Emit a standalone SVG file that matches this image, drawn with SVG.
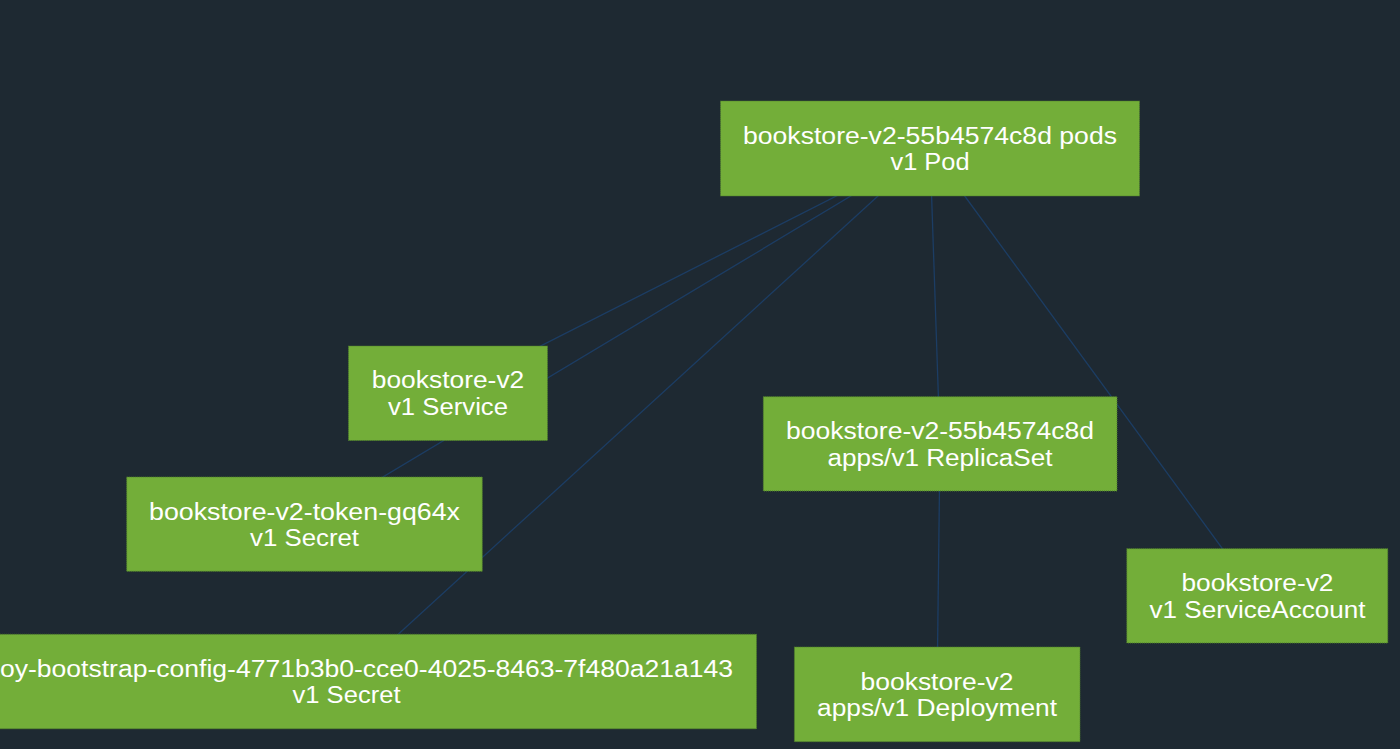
<svg xmlns="http://www.w3.org/2000/svg" width="1400" height="749" viewBox="0 0 1400 749">
<style>
.bg{fill:#1e2932}
.node rect{fill:#73ae39;stroke:#4f7f2c;stroke-width:1;stroke-dasharray:1 1}
.node text{font-family:"Liberation Sans",Arial,Helvetica,sans-serif;font-size:23px;fill:#ffffff;text-anchor:middle}
.edges line{stroke:#1c3d64;stroke-width:1.3;fill:none}
</style>
<rect class="bg" x="0" y="0" width="1400" height="749"/>
<g id="edges" class="edges">
<line x1="930" y1="148.5" x2="448" y2="393"/>
<line x1="930" y1="148.5" x2="304.5" y2="524"/>
<line x1="930" y1="148.5" x2="346.5" y2="681.5"/>
<line x1="930" y1="148.5" x2="940" y2="444"/>
<line x1="930" y1="148.5" x2="1257" y2="596"/>
<line x1="940" y1="444" x2="937" y2="694.5"/>
</g>
<g id="pod" class="node">
<rect x="720.5" y="101" width="419" height="95"/>
<text x="930" y="143.5" textLength="374" lengthAdjust="spacingAndGlyphs">bookstore-v2-55b4574c8d pods</text>
<text x="930" y="170" textLength="79" lengthAdjust="spacingAndGlyphs">v1 Pod</text>
</g>
<g id="service" class="node">
<rect x="348.5" y="346" width="199" height="94.5"/>
<text x="448" y="388" textLength="152.5" lengthAdjust="spacingAndGlyphs">bookstore-v2</text>
<text x="448" y="414.5" textLength="120" lengthAdjust="spacingAndGlyphs">v1 Service</text>
</g>
<g id="token-secret" class="node">
<rect x="126.7" y="477" width="355.6" height="94.3"/>
<text x="304.5" y="519.5" textLength="311" lengthAdjust="spacingAndGlyphs">bookstore-v2-token-gq64x</text>
<text x="304.5" y="546" textLength="109" lengthAdjust="spacingAndGlyphs">v1 Secret</text>
</g>
<g id="envoy-secret" class="node">
<rect x="-62" y="634.3" width="818.5" height="94.5"/>
<text x="0" y="676.5" style="text-anchor:start" textLength="733" lengthAdjust="spacingAndGlyphs">oy-bootstrap-config-4771b3b0-cce0-4025-8463-7f480a21a143</text>
<text x="346.5" y="703" textLength="108" lengthAdjust="spacingAndGlyphs">v1 Secret</text>
</g>
<g id="replicaset" class="node">
<rect x="763.3" y="396.7" width="353.7" height="94.3"/>
<text x="940" y="439" textLength="308" lengthAdjust="spacingAndGlyphs">bookstore-v2-55b4574c8d</text>
<text x="940" y="465.5" textLength="225" lengthAdjust="spacingAndGlyphs">apps/v1 ReplicaSet</text>
</g>
<g id="serviceaccount" class="node">
<rect x="1126.8" y="548.7" width="261" height="94.3"/>
<text x="1257.5" y="591" textLength="152" lengthAdjust="spacingAndGlyphs">bookstore-v2</text>
<text x="1257.5" y="617.5" textLength="216" lengthAdjust="spacingAndGlyphs">v1 ServiceAccount</text>
</g>
<g id="deployment" class="node">
<rect x="794.4" y="647" width="285.6" height="94.7"/>
<text x="937" y="689.5" textLength="153" lengthAdjust="spacingAndGlyphs">bookstore-v2</text>
<text x="937" y="716" textLength="240" lengthAdjust="spacingAndGlyphs">apps/v1 Deployment</text>
</g>
</svg>
